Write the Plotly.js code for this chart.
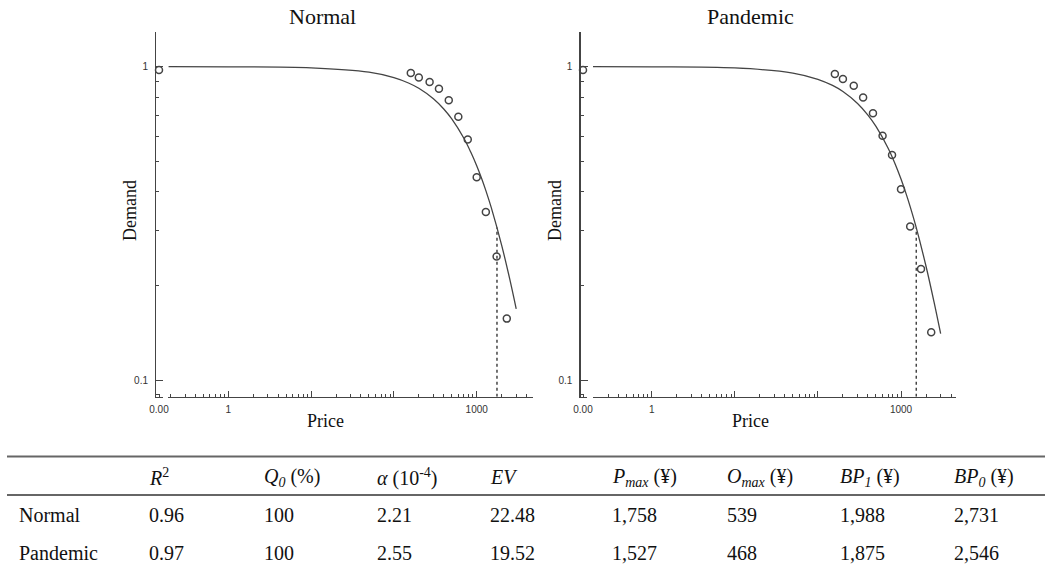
<!DOCTYPE html>
<html>
<head>
<meta charset="utf-8">
<script src="https://cdn.plot.ly/plotly-3.0.1.min.js"></script>
<style>html,body{margin:0;padding:0;background:#fff;}#chart{width:1052px;height:567px;}</style>
</head>
<body>
<div id="chart"></div>
<script>
// ---------- data ----------
const prices = [160, 200, 270, 350, 460, 600, 780, 1000, 1290, 1740, 2310];
const normalDemand = [0.955, 0.924, 0.894, 0.851, 0.781, 0.692, 0.586, 0.444, 0.344, 0.248, 0.157];
const pandemicDemand = [0.948, 0.913, 0.870, 0.798, 0.710, 0.602, 0.523, 0.406, 0.309, 0.226, 0.142];
const zeroPrice = [0];
const normalZeroDemand = [0.976];
const pandemicZeroDemand = [0.976];

const curvePrice = [0.19, 1, 10, 50, 100, 150, 200, 300, 400, 500, 700, 850, 1000, 1150, 1300, 1500, 2000, 2500, 3000];
const normalCurve = [1.000, 0.9992, 0.9919, 0.9605, 0.9230, 0.8872, 0.8533, 0.7901, 0.7330, 0.6813, 0.5908, 0.5330, 0.4830, 0.4389, 0.3999, 0.3550, 0.2695, 0.2106, 0.1688];
const pandemicCurve = [1.000, 0.9991, 0.9907, 0.9546, 0.9118, 0.8714, 0.8332, 0.7633, 0.7005, 0.6445, 0.5489, 0.4891, 0.4378, 0.3934, 0.3550, 0.3114, 0.2307, 0.1772, 0.1405];
const pmaxDemand = [0.307, 0.306];

// table
const conditions = ['Normal', 'Pandemic'];
const headers = ['<i>R</i><sup>2</sup>', '<i>Q<sub>0</sub></i> (%)', '<i>α</i> (10<sup>-4</sup>)', '<i>EV</i>',
                 '<i>P<sub>max</sub></i> (¥)', '<i>O<sub>max</sub></i> (¥)', '<i>BP<sub>1</sub></i> (¥)', '<i>BP<sub>0</sub></i> (¥)'];
const r2 = ['0.96', '0.97'];
const q0 = [100, 100];
const alpha = ['2.21', '2.55'];
const ev = ['22.48', '19.52'];
const pmax = [1758, 1527];
const omax = [539, 468];
const bp1 = [1988, 1875];
const bp0 = [2731, 2546];

// ---------- layout helpers ----------
const W = 1052, H = 567;
const px = x => x / W;
const py = y => 1 - y / H;
const AX = '#444';
const tickFont = {family: 'Liberation Sans, Arial, sans-serif', size: 10, color: '#333'};
const serif = 'Liberation Serif, Times New Roman, serif';

function minorLog(lo, hi) {
  const out = [];
  for (let e = lo; e <= hi; e++) for (let m = 2; m <= 9; m++) out.push(m * Math.pow(10, e));
  return out;
}
const yBottom = Math.pow(10, -1.0533);

function logX(domain, range, anchor) {
  return {type: 'log', domain: domain, range: range, anchor: anchor,
    showline: true, linecolor: AX, linewidth: 1.2, showgrid: false, zeroline: false,
    ticks: 'inside', ticklen: 6, tickwidth: 1, tickcolor: AX,
    tickvals: [1, 10, 100, 1000], ticktext: ['1', ' ', ' ', '1000'], tickfont: tickFont,
    ticklabelstandoff: 3,
    minor: {tickvals: minorLog(-1, 3), ticks: 'inside', ticklen: 3, tickwidth: 1, tickcolor: AX, showgrid: false}};
}
function logY(position) {
  return {type: 'log', domain: [py(396.7), py(31.7)], range: [-1.0533, 0.1117], anchor: 'free', position: position,
    showline: true, linecolor: AX, linewidth: 1.2, showgrid: false, zeroline: false,
    ticks: 'inside', ticklen: 7, tickwidth: 1, tickcolor: AX,
    tickvals: [0.1, 1], ticktext: ['0.1', '1'], tickfont: tickFont, ticklabelstandoff: 5,
    minor: {tickvals: [0.09, 0.2, 0.3, 0.4, 0.5, 0.6, 0.7, 0.8, 0.9], ticks: 'inside', ticklen: 3, tickwidth: 1, tickcolor: AX, showgrid: false}};
}
function stubX(domain, anchor) {
  return {type: 'linear', domain: domain, range: [-1, 1], anchor: anchor,
    showline: true, linecolor: AX, linewidth: 1.2, showgrid: false, zeroline: false,
    ticks: 'inside', ticklen: 3, tickcolor: AX, tickvals: [0], ticktext: ['0.00'], tickfont: tickFont,
    ticklabelstandoff: 3};
}

const lineStyle = {color: '#444', width: 1.3, shape: 'spline'};
const markerStyle = {symbol: 'circle-open', size: 7, color: '#444', line: {width: 1.5}};

const traces = [
  {x: curvePrice, y: normalCurve, xaxis: 'x', yaxis: 'y', mode: 'lines', line: lineStyle},
  {x: [pmax[0], pmax[0]], y: [yBottom, pmaxDemand[0]], xaxis: 'x', yaxis: 'y', mode: 'lines',
   line: {color: '#444', width: 1.5, dash: '3px,3px'}},
  {x: prices, y: normalDemand, xaxis: 'x', yaxis: 'y', mode: 'markers', marker: markerStyle},
  {x: zeroPrice, y: normalZeroDemand, xaxis: 'x3', yaxis: 'y', mode: 'markers', marker: markerStyle, cliponaxis: false},

  {x: curvePrice, y: pandemicCurve, xaxis: 'x2', yaxis: 'y2', mode: 'lines', line: lineStyle},
  {x: [pmax[1], pmax[1]], y: [yBottom, pmaxDemand[1]], xaxis: 'x2', yaxis: 'y2', mode: 'lines',
   line: {color: '#444', width: 1.5, dash: '3px,3px'}},
  {x: prices, y: pandemicDemand, xaxis: 'x2', yaxis: 'y2', mode: 'markers', marker: markerStyle},
  {x: zeroPrice, y: pandemicZeroDemand, xaxis: 'x4', yaxis: 'y2', mode: 'markers', marker: markerStyle, cliponaxis: false}
];

const annotations = [];
function txt(text, x, y, size, opts) {
  annotations.push(Object.assign({text: text, x: px(x), y: py(y), xref: 'paper', yref: 'paper',
    showarrow: false, font: {family: serif, size: size, color: '#111'}, xanchor: 'center', yanchor: 'middle'}, opts || {}));
}
txt('Normal', 322, 16, 22);
txt('Pandemic', 750, 16, 22);
txt('Price', 325, 421, 18);
txt('Price', 750, 421, 18);
txt('Demand', 130, 211, 18, {textangle: -90});
txt('Demand', 555, 211, 18, {textangle: -90});

// table
const colX = [17, 147, 262, 375, 488, 610, 725, 838, 952];
const rowY = [477, 515, 553];
headers.forEach((h, i) => txt(h, colX[i + 1], rowY[0], 20, {xanchor: 'left'}));
const fmt = v => (typeof v === 'number') ? v.toLocaleString('en-US') : v;
conditions.forEach((c, r) => {
  const vals = [c, r2[r], q0[r], alpha[r], ev[r], pmax[r], omax[r], bp1[r], bp0[r]];
  vals.forEach((v, i) => txt(fmt(v), colX[i], rowY[r + 1], 20, {xanchor: 'left'}));
});

const shapes = [
  {type: 'line', xref: 'paper', yref: 'paper', x0: px(7), x1: px(1045), y0: py(456.5), y1: py(456.5), line: {color: '#666', width: 2.2}},
  {type: 'line', xref: 'paper', yref: 'paper', x0: px(7), x1: px(1045), y0: py(495), y1: py(495), line: {color: '#666', width: 2.2}}
];

const layout = {
  width: W, height: H, margin: {l: 0, r: 0, t: 0, b: 0},
  paper_bgcolor: '#fff', plot_bgcolor: 'rgba(0,0,0,0)', showlegend: false,
  xaxis: logX([px(168), px(533)], [-0.7283, 3.680], 'y'),
  xaxis2: logX([px(593), px(956)], [-0.7064, 3.6618], 'y2'),
  xaxis3: stubX([px(155), px(163)], 'y'),
  xaxis4: stubX([px(579), px(587)], 'y2'),
  yaxis: logY(px(155)),
  yaxis2: logY(px(579.3)),
  annotations: annotations,
  shapes: shapes
};

Plotly.newPlot('chart', traces, layout, {staticPlot: true, displayModeBar: false});
</script>
</body>
</html>
